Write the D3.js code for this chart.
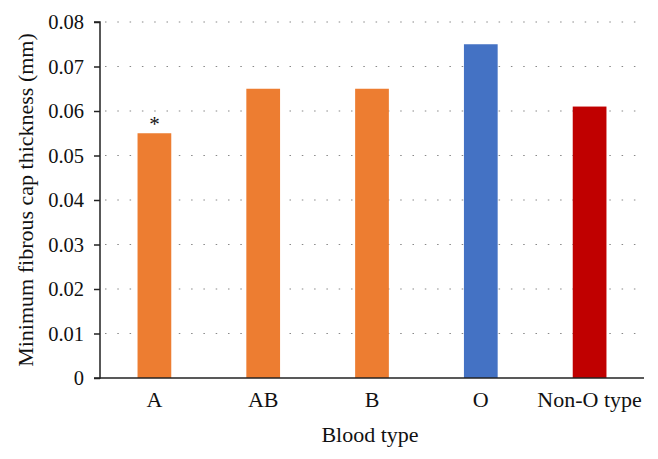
<!DOCTYPE html>
<html><head><meta charset="utf-8">
<script src="https://cdn.jsdelivr.net/npm/d3@7"></script>
<style>body{margin:0;background:#fff}svg{display:block}text{font-family:"Liberation Serif","DejaVu Serif",serif;fill:#111}</style>
</head><body>
<svg id="c" width="658" height="459"></svg>
<script>
const categories = ["A", "AB", "B", "O", "Non-O type"];
const values = [0.055, 0.065, 0.065, 0.075, 0.061];
const barColors = ["#ED7D31", "#ED7D31", "#ED7D31", "#4472C4", "#C00000"];
const annotations = ["*", "", "", "", ""];
const yTicks = [0, 0.01, 0.02, 0.03, 0.04, 0.05, 0.06, 0.07, 0.08];
const yTickLabels = ["0", "0.01", "0.02", "0.03", "0.04", "0.05", "0.06", "0.07", "0.08"];

const svg = d3.select("#c");
const mLeft = 100, mRight = 644, mTop = 22, mBottom = 378;
const x = d3.scaleBand().domain(categories).range([mLeft, mRight]).paddingInner(0.69).paddingOuter(0.345);
const y = d3.scaleLinear().domain([0, 0.08]).range([mBottom, mTop]);

// gridlines
svg.append("g").selectAll("line").data(yTicks.slice(1)).join("line")
  .attr("x1", mLeft + 5).attr("x2", 638)
  .attr("y1", d => y(d)).attr("y2", d => y(d))
  .attr("stroke", "#888").attr("stroke-width", 1.2)
  .attr("stroke-dasharray", "1.5,10.8");

// bars
svg.append("g").selectAll("rect").data(categories).join("rect")
  .attr("x", d => x(d)).attr("width", x.bandwidth())
  .attr("y", (d, i) => y(values[i])).attr("height", (d, i) => y(0) - y(values[i]))
  .attr("fill", (d, i) => barColors[i]);

// annotations
svg.append("g").selectAll("text").data(categories).join("text")
  .attr("x", d => x(d) + x.bandwidth() / 2)
  .attr("y", (d, i) => y(values[i]) - 2)
  .attr("text-anchor", "middle").attr("font-size", 21)
  .text((d, i) => annotations[i]);

// y axis
const yAxis = d3.axisLeft(y).tickValues(yTicks).tickFormat((d, i) => yTickLabels[i]).tickSize(6).tickPadding(10);
const ya = svg.append("g").attr("transform", `translate(${mLeft},0)`).call(yAxis);
ya.select(".domain").attr("stroke", "#222").attr("stroke-width", 1.5).attr("d", `M-6,${mTop}H0V${mBottom}H-6`);
ya.selectAll(".tick line").attr("stroke", "#222").attr("stroke-width", 1.5);
ya.selectAll("text").attr("font-size", 20.5).attr("font-family", '"Liberation Serif",serif').attr("fill", "#111");

// x axis
const xAxis = d3.axisBottom(x).tickSize(0).tickPadding(13);
const xa = svg.append("g").attr("transform", `translate(0,${mBottom})`).call(xAxis);
xa.select(".domain").attr("stroke", "#222").attr("stroke-width", 1.5).attr("d", `M${mLeft},0H${mRight}`);
xa.selectAll("text").attr("font-size", 22).attr("font-family", '"Liberation Serif",serif').attr("fill", "#111");

// axis titles
svg.append("text").attr("x", 370).attr("y", 442).attr("text-anchor", "middle").attr("font-size", 22).text("Blood type");
svg.append("text").attr("transform", "translate(33,200) rotate(-90)").attr("text-anchor", "middle").attr("font-size", 22).text("Minimum fibrous cap thickness (mm)");
</script>
</body></html>
